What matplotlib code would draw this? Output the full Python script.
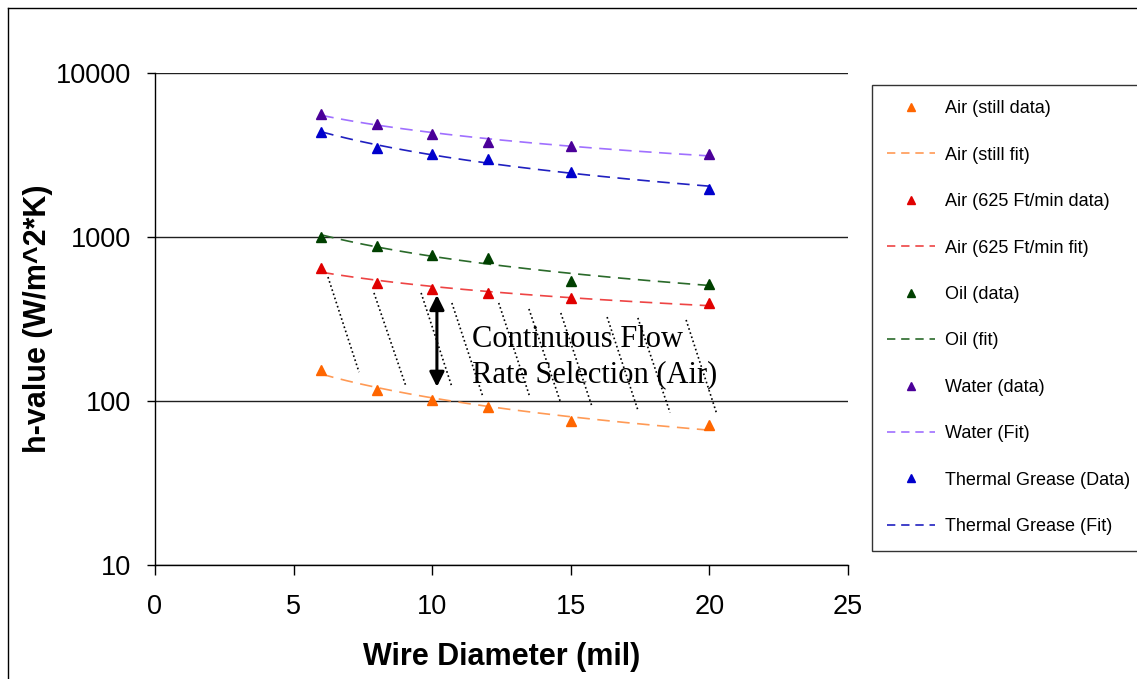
import numpy as np
import matplotlib
matplotlib.use("Agg")
import matplotlib.pyplot as plt
from matplotlib.lines import Line2D

# ---------------- data ----------------
wire_diameter = [6, 8, 10, 12, 15, 20]
air_still = [155, 117, 101, 92, 76, 71]
air_625 = [647, 525, 482, 456, 425, 396]
oil = [1000, 881, 776, 745, 540, 517]
water = [5620, 4890, 4250, 3800, 3590, 3210]
grease = [4370, 3490, 3210, 2990, 2490, 1960]

data_labels = ["Air (still data)", "Air (625 Ft/min data)", "Oil (data)", "Water (data)", "Thermal Grease (Data)"]
fit_labels = ["Air (still fit)", "Air (625 Ft/min fit)", "Oil (fit)", "Water (Fit)", "Thermal Grease (Fit)"]
marker_colors = ["#FF6600", "#E00000", "#004000", "#4B0099", "#0000CC"]
fit_colors = ["#FF9A55", "#EE4444", "#2A6A2A", "#A070FF", "#2020C0"]

# annotation: slanted dotted lines (start/end in data units)
hatch_x0 = [6.24, 7.90, 9.60, 10.71, 12.40, 13.49, 14.64, 16.31, 17.42, 19.16]
hatch_y0 = [570, 456, 456, 396, 396, 364, 344, 325, 321, 312]
hatch_x1 = [7.36, 9.06, 10.71, 11.83, 13.52, 14.64, 15.76, 17.42, 18.58, 20.27]
hatch_y1 = [150, 122, 122, 106, 106, 97, 93, 88, 85, 83]
arrow_x = 10.17
arrow_top, arrow_bottom = 443, 122

x_ticks = [0, 5, 10, 15, 20, 25]
y_ticks = [10, 100, 1000, 10000]

# ---------------- figure ----------------
W, H = 1137, 679
fig = plt.figure(figsize=(W / 100, H / 100), dpi=100)
fig.patch.set_facecolor("white")
ax = fig.add_axes([155 / W, 1 - 565 / H, 693 / W, 492 / H])

ax.set_yscale("log")
ax.set_xlim(0, 25)
ax.set_ylim(10, 10000)

for sp in ["top", "right"]:
    ax.spines[sp].set_visible(False)
for sp in ["left", "bottom"]:
    ax.spines[sp].set_color("black")
    ax.spines[sp].set_linewidth(1.0)

ax.set_xticks(x_ticks)
ax.set_xticklabels([str(t) for t in x_ticks])
ax.set_yticks(y_ticks)
ax.set_yticklabels([str(t) for t in y_ticks])
ax.yaxis.set_minor_locator(matplotlib.ticker.NullLocator())
ax.tick_params(axis="x", direction="out", length=7, width=1, pad=14,
               labelsize=19.5, labelfontfamily="Liberation Sans")
ax.tick_params(axis="y", direction="out", length=6, width=1, pad=11,
               labelsize=19.5, labelfontfamily="Liberation Sans")
ax.grid(axis="y", which="major", color="#202020", linewidth=1.0)
ax.set_axisbelow(True)

all_series = [air_still, air_625, oil, water, grease]
x = np.array(wire_diameter, dtype=float)
xs = np.linspace(x.min(), x.max(), 200)
handles = []
for vals, mc, fc, dl, fl in zip(all_series, marker_colors, fit_colors, data_labels, fit_labels):
    v = np.array(vals, dtype=float)
    b, loga = np.polyfit(np.log(x), np.log(v), 1)
    ax.plot(x, v, linestyle="none", marker="^", markersize=7, color=mc,
            markeredgecolor=mc, zorder=4)
    ln, = ax.plot(xs, np.exp(loga) * xs ** b, color=fc, linewidth=1.2, zorder=3)
    ln.set_dashes([7.5, 4.5])
    handles.append(Line2D([], [], linestyle="none", marker="^", markersize=6,
                          color=mc, label=dl))
    lh = Line2D([], [], color=fc, linewidth=1.2, label=fl)
    lh.set_dashes([5.0, 3.5])
    handles.append(lh)

# dotted hatch lines
for a0, b0, a1, b1 in zip(hatch_x0, hatch_y0, hatch_x1, hatch_y1):
    ax.plot([a0, a1], [b0, b1], color="black", linewidth=1.2,
            linestyle=(0, (1, 1.6)), zorder=2)

ax.annotate("", xy=(arrow_x, arrow_bottom), xytext=(arrow_x, arrow_top),
            arrowprops=dict(arrowstyle="<|-|>", color="black", lw=2.2,
                            mutation_scale=22, shrinkA=0, shrinkB=0), zorder=5)

ax.text(11.44, 213, "Continuous Flow", fontsize=22, family="Liberation Serif",
        va="baseline", ha="left", zorder=5)
ax.text(11.44, 131, "Rate Selection (Air)", fontsize=22, family="Liberation Serif",
        va="baseline", ha="left", zorder=5)

ax.set_xlabel("Wire Diameter (mil)", fontsize=22, fontweight="bold",
              family="Liberation Sans", labelpad=16)
ax.set_ylabel("h-value (W/m^2*K)", fontsize=22, fontweight="bold",
              family="Liberation Sans", labelpad=2.5)

leg = fig.legend(handles=handles, loc="upper left",
                 bbox_to_anchor=(872 / W, 1 - 85 / H),
                 bbox_transform=fig.transFigure,
                 prop={"family": "Liberation Sans", "size": 13},
                 frameon=True, fancybox=False, edgecolor="black",
                 labelspacing=1.63, borderpad=0.85, handlelength=2.65,
                 handletextpad=0.55, borderaxespad=0)
leg.get_frame().set_linewidth(1.0)

# outer chart border (top and left visible)
fig.add_artist(Line2D([8 / W, 8 / W], [0, 1 - 8 / H], transform=fig.transFigure,
                      color="black", linewidth=1.0))
fig.add_artist(Line2D([8 / W, 1], [1 - 8 / H, 1 - 8 / H], transform=fig.transFigure,
                      color="black", linewidth=1.0))

fig.savefig("out.png", dpi=100)
